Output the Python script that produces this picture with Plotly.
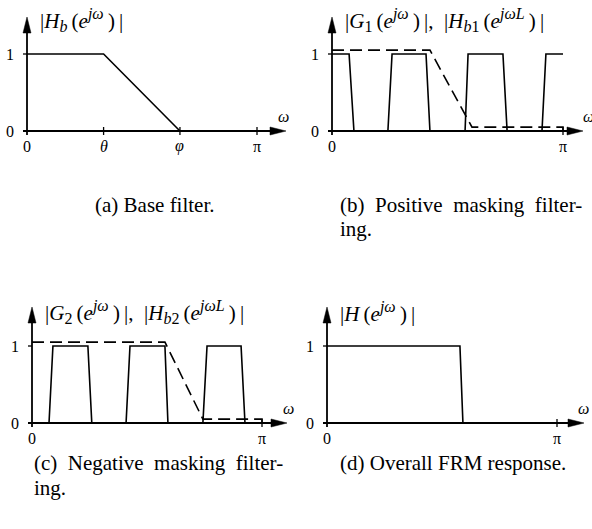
import plotly.graph_objects as go

W, H = 592, 529

# ---------------- data (frequency in units of pi) ----------------
# (a) base filter
base_w = [0, 0.333, 0.665]
base_h = [1, 1, 0]
a_ticks = [0.333, 0.665, 1.0]
a_ticklabels = ["<i>θ</i>", "<i>φ</i>", "π"]

# (b) positive masking
g1_w = [0, 0.074, 0.095, 0.242, 0.260, 0.407, 0.424, 0.576, 0.589, 0.740, 0.758, 0.909, 0.926, 1.0]
g1_h = [1, 1, 0, 0, 1, 1, 0, 0, 1, 1, 0, 0, 1, 1]
hb1_w = [0, 0.424, 0.606, 1.0, 1.0]
hb1_h = [1.05, 1.05, 0.05, 0.05, 0]

# (c) negative masking
g2_w = [0.074, 0.091, 0.243, 0.260, 0.409, 0.426, 0.578, 0.591, 0.743, 0.761, 0.909, 0.926]
g2_h = [0, 1, 1, 0, 0, 1, 1, 0, 0, 1, 1, 0]
hb2_w = [0, 0.578, 0.743, 1.0, 1.0]
hb2_h = [1.05, 1.05, 0.05, 0.05, 0]

# (d) overall response
h_w = [0, 0.578, 0.591]
h_h = [1, 1, 0]

pi_ticks = [1.0]
pi_ticklabels = ["π"]
y_ticks = [0, 1]
y_ticklabels = ["0", "1"]

SP = "&#8201;"
NB = "&nbsp;"
EN = "&#8194;"


def sub(t):
    return f"<sub><span style='font-size:16px'>{t}</span></sub>"


def sup(t):
    return f"<sup><span style='font-size:16px'>{t}</span></sup>"


titles = [
    f"|<i>H</i>{sub('<i>b</i>')}{SP}(<i>e</i>{sup('<i>jω</i>')}{SP}){SP}|",
    f"|<i>G</i>{sub('1')}{SP}(<i>e</i>{sup('<i>jω</i>')}{SP}){SP}|,{EN}|<i>H</i>{sub('<i>b</i>1')}{SP}(<i>e</i>{sup('<i>jωL</i>')}{SP}){SP}|",
    f"|<i>G</i>{sub('2')}{SP}(<i>e</i>{sup('<i>jω</i>')}{SP}){SP}|,{EN}|<i>H</i>{sub('<i>b</i>2')}{SP}(<i>e</i>{sup('<i>jωL</i>')}{SP}){SP}|",
    f"|<i>H</i>{SP}(<i>e</i>{sup('<i>jω</i>')}{SP}){SP}|",
]
# (text, x pixel, y pixel, anchor)
captions = [
    [("(a) Base filter.", 155, 205, "center")],
    [(f"(b) {NB}Positive {NB}masking {NB}filter-", 338, 205, "left"), ("ing.", 338, 229, "left")],
    [(f"(c) {NB}Negative {NB}masking {NB}filter-", 32, 463, "left"), ("ing.", 32, 488, "left")],
    [("(d) Overall FRM response.", 338, 463, "left")],
]

# ---------------- layout geometry (pixels) ----------------
panels = [
    dict(box=(0, 296, 0, 260), o=(27, 131), s=(230, 77), xtip=286, ytip=17),
    dict(box=(296, 592, 0, 260), o=(332, 131), s=(231, 77), xtip=583, ytip=17),
    dict(box=(0, 296, 260, 529), o=(32, 423), s=(230, 77), xtip=287, ytip=307),
    dict(box=(296, 592, 260, 529), o=(327, 423), s=(230, 77), xtip=584, ytip=307),
]

MATH = "Liberation Serif, Times New Roman, serif"
TXT = "Liberation Serif, Times New Roman, serif"
LW = 1.6
AW = 1.8

fig = go.Figure()
shapes = []
annotations = []

series = [
    [(base_w, base_h, "solid")],
    [(g1_w, g1_h, "solid"), (hb1_w, hb1_h, "12px,6px")],
    [(g2_w, g2_h, "solid"), (hb2_w, hb2_h, "12px,6px")],
    [(h_w, h_h, "solid")],
]
xticks = [(a_ticks, a_ticklabels), (pi_ticks, pi_ticklabels), (pi_ticks, pi_ticklabels), (pi_ticks, pi_ticklabels)]

for i, p in enumerate(panels):
    n = "" if i == 0 else str(i + 1)
    xa, ya = "x" + n, "y" + n
    X0, X1, Y0, Y1 = p["box"]
    ox, oy = p["o"]
    sx, sy = p["s"]
    fig.update_layout(**{
        "xaxis" + n: dict(domain=[X0 / W, X1 / W], range=[(X0 - ox) / sx, (X1 - ox) / sx],
                          visible=False, fixedrange=True, anchor=ya),
        "yaxis" + n: dict(domain=[1 - Y1 / H, 1 - Y0 / H], range=[(oy - Y1) / sy, (oy - Y0) / sy],
                          visible=False, fixedrange=True, anchor=xa),
    })

    for xs, ys, dash in series[i]:
        fig.add_trace(go.Scatter(x=xs, y=ys, mode="lines", xaxis=xa, yaxis=ya,
                                 line=dict(color="black", width=LW, dash=dash),
                                 hoverinfo="skip", showlegend=False))

    # axes with arrowheads
    xt = (p["xtip"] - ox) / sx
    yt = (oy - p["ytip"]) / sy
    ah_l, ah_w = 16, 4
    shapes.append(dict(type="line", xref=xa, yref=ya, x0=-4 / sx, x1=xt - ah_l / sx, y0=0, y1=0,
                       line=dict(color="black", width=AW)))
    shapes.append(dict(type="line", xref=xa, yref=ya, x0=0, x1=0, y0=-4 / sy, y1=yt - ah_l / sy,
                       line=dict(color="black", width=AW)))
    shapes.append(dict(type="path", xref=xa, yref=ya,
                       path=f"M{xt - ah_l / sx},{ah_w / sy} L{xt},0 L{xt - ah_l / sx},{-ah_w / sy} Z",
                       fillcolor="black", line=dict(color="black", width=0.5)))
    shapes.append(dict(type="path", xref=xa, yref=ya,
                       path=f"M{-ah_w / sx},{yt - ah_l / sy} L0,{yt} L{ah_w / sx},{yt - ah_l / sy} Z",
                       fillcolor="black", line=dict(color="black", width=0.5)))
    # y tick at 1
    shapes.append(dict(type="line", xref=xa, yref=ya, x0=-4 / sx, x1=0, y0=1, y1=1,
                       line=dict(color="black", width=1.3)))
    # x ticks
    tv, tl = xticks[i]
    for v in tv:
        shapes.append(dict(type="line", xref=xa, yref=ya, x0=v, x1=v, y0=-4 / sy, y1=4 / sy,
                           line=dict(color="black", width=1.3)))
    labels = [(0, "0")] + list(zip(tv, tl))
    for v, t in labels:
        annotations.append(dict(x=v, y=0, xref=xa, yref=ya, yshift=-15, text=t, showarrow=False,
                                xanchor="center", yanchor="middle",
                                font=dict(family=MATH, size=16, color="black")))
    for v, t in zip(y_ticks, y_ticklabels):
        annotations.append(dict(x=0, y=v, xref=xa, yref=ya, xshift=-17, text=t, showarrow=False,
                                xanchor="center", yanchor="middle",
                                font=dict(family=MATH, size=16, color="black")))
    # omega label
    annotations.append(dict(x=256 / sx, y=15 / sy, xref=xa, yref=ya, text="<i>ω</i>", showarrow=False,
                            xanchor="center", yanchor="middle",
                            font=dict(family=MATH, size=16, color="black")))
    # title
    annotations.append(dict(x=11 / sx, y=111 / sy, xref=xa, yref=ya, text=titles[i], showarrow=False,
                            xanchor="left", yanchor="middle",
                            font=dict(family=MATH, size=21, color="black")))
    # captions
    for t, cx, cy, anc in captions[i]:
        annotations.append(dict(x=cx / W, y=1 - cy / H, xref="paper", yref="paper", text=t,
                                showarrow=False, xanchor=anc, yanchor="middle",
                                font=dict(family=TXT, size=21, color="black")))

fig.update_layout(width=W, height=H, margin=dict(l=0, r=0, t=0, b=0), autosize=False,
                  paper_bgcolor="white", plot_bgcolor="white",
                  shapes=shapes, annotations=annotations, showlegend=False)

fig.write_html("out.html", config={"displayModeBar": False},
               post_script="document.body.style.margin='0';document.body.style.overflow='hidden';")
